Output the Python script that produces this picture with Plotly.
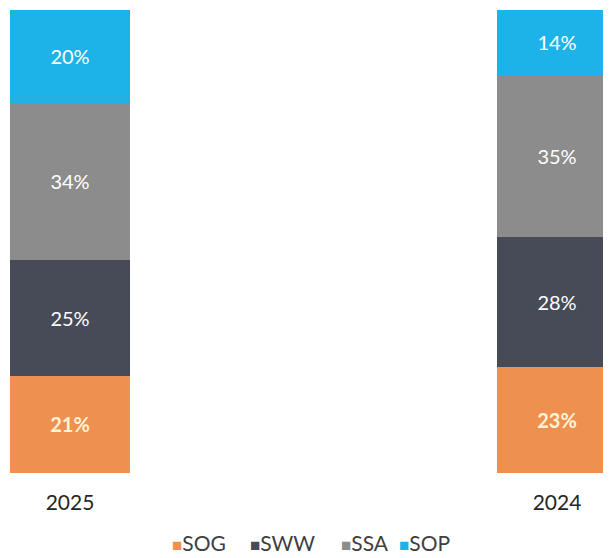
import plotly.graph_objects as go

years = ["2025", "2024"]
series = ["SOG", "SWW", "SSA", "SOP"]
sog = [21, 23]
sww = [25, 28]
ssa = [34, 35]
sop = [20, 14]
colors = {"SOG": "#EE904F", "SWW": "#474B57", "SSA": "#8C8C8C", "SOP": "#1DB3E8"}
legend_x = {"SOG": 0.2651, "SWW": 0.3928, "SSA": 0.5417, "SOP": 0.6367}

values = {"SOG": sog, "SWW": sww, "SSA": ssa, "SOP": sop}

fig = go.Figure()
for s in series:
    bottom = s == "SOG"
    fig.add_trace(go.Bar(
        name=s, x=years, y=values[s],
        marker=dict(color=colors[s], line=dict(width=0)),
        text=[f"{v}%" for v in values[s]],
        textposition="inside", insidetextanchor="middle",
        textangle=0,
        textfont=dict(family="Lato", size=20,
                      color="#FFF3D6" if bottom else "white",
                      weight="bold" if bottom else "normal"),
        width=0.2464,
        showlegend=False,
    ))
    fig.add_annotation(
        xref="paper", yref="paper", x=legend_x[s], y=-0.15,
        xanchor="left", yanchor="middle", showarrow=False,
        text=f'<span style="color:{colors[s]};font-size:17px">■</span>{s}',
        font=dict(family="Lato", size=21, color="#404040"),
    )

fig.update_layout(
    barmode="stack",
    width=611, height=566,
    margin=dict(l=0, r=0, t=2, b=101),
    paper_bgcolor="white", plot_bgcolor="white",
    font=dict(family="Lato", color="#262626"),
    uniformtext=dict(mode=False),
)
fig.update_xaxes(range=[-0.1273, 1.1273], showline=False, showgrid=False, ticks="",
                 tickfont=dict(size=21, color="#262626"), ticklabelstandoff=15)
fig.update_yaxes(range=[0, 100], visible=False)

fig.write_html("out.html")
